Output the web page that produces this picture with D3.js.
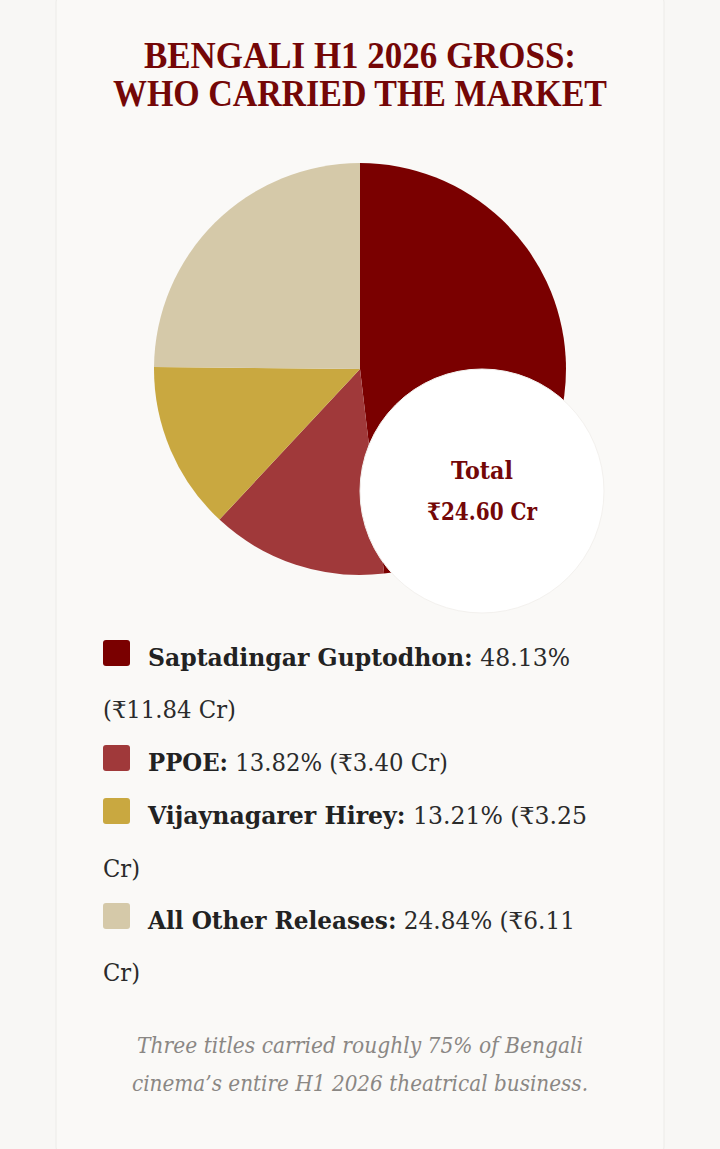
<!DOCTYPE html>
<html>
<head>
<meta charset="utf-8">
<script src="https://cdn.jsdelivr.net/npm/d3@7"></script>
<style>
  html, body { margin: 0; padding: 0; background: #f8f7f5; }
  svg { display: block; }
</style>
</head>
<body>
<div id="chart"></div>
<script>
const titleLines = ["BENGALI H1 2026 GROSS:", "WHO CARRIED THE MARKET"];
const films = ["Saptadingar Guptodhon", "PPOE", "Vijaynagarer Hirey", "All Other Releases"];
const shares = [48.13, 13.82, 13.21, 24.84];
const grossCr = [11.84, 3.40, 3.25, 6.11];
const colors = ["#7a0000", "#a0393a", "#c9a840", "#d5c9a9"];
const totalCr = 24.60;
const captionLines = ["Three titles carried roughly 75% of Bengali", "cinema\u2019s entire H1 2026 theatrical business."];

const width = 720, height = 1149;
const serif = "'DejaVu Serif', 'Noto Serif', serif";

const svg = d3.select("#chart").append("svg")
  .attr("width", width)
  .attr("height", height);

// card
svg.append("rect")
  .attr("x", 56).attr("y", -12)
  .attr("width", 608).attr("height", height + 24)
  .attr("rx", 14)
  .attr("fill", "#faf9f7")
  .attr("stroke", "#ecebe8");

// squeeze a text node to the given width, keeping its font-size
function fit(node, target) {
  d3.select(node)
    .attr("textLength", target)
    .attr("lengthAdjust", "spacingAndGlyphs");
}

// title
const titleSpec = [{y: 68, w: 432}, {y: 106, w: 494}];
svg.append("g").selectAll("text")
  .data(titleLines)
  .join("text")
    .attr("x", 360)
    .attr("y", (d, i) => titleSpec[i].y)
    .attr("text-anchor", "middle")
    .attr("font-family", "'Liberation Serif', serif")
    .attr("font-weight", "bold")
    .attr("font-size", 37)
    .attr("fill", "#740707")
    .text(d => d)
    .each(function(d, i) { fit(this, titleSpec[i].w); });

// pie
const cx = 360, cy = 369, radius = 206;
const pie = d3.pie().sort(null).value(d => d.share);
const arc = d3.arc().innerRadius(0).outerRadius(radius);
const slices = films.map((f, i) => ({name: f, share: shares[i], color: colors[i]}));

svg.append("g")
  .attr("transform", `translate(${cx},${cy})`)
  .selectAll("path")
  .data(pie(slices))
  .join("path")
    .attr("d", arc)
    .attr("fill", d => d.data.color);

// offset "hole"
const holeR = 122;
const hole = svg.append("g")
  .attr("transform", `translate(${cx + holeR},${cy + holeR})`);
hole.append("circle")
  .attr("r", holeR)
  .attr("fill", "#ffffff")
  .attr("stroke", "#f3f1ee")
  .attr("stroke-width", 1);
hole.append("text")
  .attr("y", -12)
  .attr("text-anchor", "middle")
  .attr("font-family", serif)
  .attr("font-weight", "bold")
  .attr("font-size", 24)
  .attr("fill", "#740707")
  .text("Total")
  .each(function() { fit(this, 62); });
hole.append("text")
  .attr("y", 29)
  .attr("text-anchor", "middle")
  .attr("font-family", serif)
  .attr("font-weight", "bold")
  .attr("font-size", 24)
  .attr("fill", "#740707")
  .text(`\u20b9${totalCr.toFixed(2)} Cr`)
  .each(function() { fit(this, 110); });

// legend (line breaks as in the reference)
const legendRows = [
  {i: 0, y: 666, w: 422, first: `${shares[0].toFixed(2)}%`, rest: `(\u20b9${grossCr[0].toFixed(2)} Cr)`, restY: 718, restW: 133},
  {i: 1, y: 771, w: 300, first: `${shares[1].toFixed(2)}% (\u20b9${grossCr[1].toFixed(2)} Cr)`},
  {i: 2, y: 824, w: 439, first: `${shares[2].toFixed(2)}% (\u20b9${grossCr[2].toFixed(2)}`, rest: "Cr)", restY: 877, restW: 37},
  {i: 3, y: 929, w: 427, first: `${shares[3].toFixed(2)}% (\u20b9${grossCr[3].toFixed(2)}`, rest: "Cr)", restY: 981, restW: 37}
];

const legend = svg.append("g");
legendRows.forEach(r => {
  legend.append("rect")
    .attr("x", 103).attr("y", r.y - 26)
    .attr("width", 27).attr("height", 26)
    .attr("rx", 3)
    .attr("fill", colors[r.i]);
  const t = legend.append("text")
    .attr("x", 148).attr("y", r.y)
    .attr("font-family", serif)
    .attr("font-size", 23.5)
    .attr("fill", "#222");
  t.append("tspan").attr("font-weight", "bold").text(films[r.i] + ":");
  t.append("tspan").attr("fill", "#2b2b2b").text(" " + r.first);
  fit(t.node(), r.w);
  if (r.rest) {
    legend.append("text")
      .attr("x", 103).attr("y", r.restY)
      .attr("font-family", serif)
      .attr("font-size", 23.5)
      .attr("fill", "#2b2b2b")
      .text(r.rest)
      .each(function() { fit(this, r.restW); });
  }
});

// caption
const capSpec = [{y: 1053, w: 446}, {y: 1091, w: 456}];
svg.append("g").selectAll("text")
  .data(captionLines)
  .join("text")
    .attr("x", 360)
    .attr("y", (d, i) => capSpec[i].y)
    .attr("text-anchor", "middle")
    .attr("font-family", serif)
    .attr("font-style", "italic")
    .attr("font-size", 21.5)
    .attr("fill", "#8a8784")
    .text(d => d)
    .each(function(d, i) { fit(this, capSpec[i].w); });
</script>
</body>
</html>
